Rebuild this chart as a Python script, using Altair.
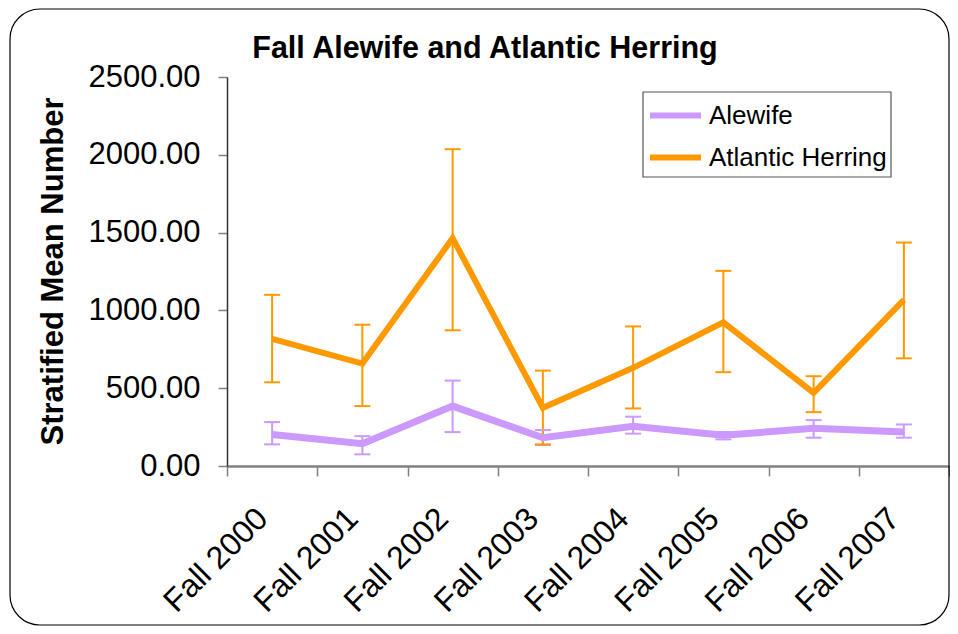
import altair as alt
import pandas as pd

years = ["Fall 2000", "Fall 2001", "Fall 2002", "Fall 2003",
         "Fall 2004", "Fall 2005", "Fall 2006", "Fall 2007"]
species = ["Alewife", "Atlantic Herring"]
colors = ["#CC99FF", "#FF9900"]

alewife_mean = [203, 143, 385, 182, 256, 197, 242, 218]
alewife_lo = [139, 75, 218, 135, 208, 171, 182, 182]
alewife_hi = [282, 192, 549, 231, 317, 218, 295, 267]

herring_mean = [817, 658, 1464, 374, 631, 923, 470, 1068]
herring_lo = [538, 385, 872, 139, 370, 603, 346, 692]
herring_hi = [1100, 908, 2036, 613, 897, 1254, 577, 1436]

y_ticks = [0, 500, 1000, 1500, 2000, 2500]
chart_title = "Fall Alewife and Atlantic Herring"
y_title = "Stratified Mean Number"

rows = []
for sp, m, lo, hi in [("Alewife", alewife_mean, alewife_lo, alewife_hi),
                      ("Atlantic Herring", herring_mean, herring_lo, herring_hi)]:
    for yr, a, b, c in zip(years, m, lo, hi):
        rows.append({"species": sp, "year": yr, "mean": a, "lo": b, "hi": c})
df = pd.DataFrame(rows)

FONT = "Arial, Liberation Sans"

x_enc = alt.X("year:N", sort=years,
              scale=alt.Scale(paddingInner=0, paddingOuter=0),
              axis=alt.Axis(title=None, labelAngle=-45, labelAlign="right",
                            labelBaseline="middle", labelFontSize=32,
                            labelFont=FONT, labelColor="#000",
                            labelPadding=37, labelOffset=-10,
                            tickSize=10, tickBand="extent",
                            tickColor="#808080", tickWidth=1.5,
                            domainColor="#808080", domainWidth=2.5))
y_scale = alt.Scale(domain=[0, 2500], nice=False)
y_axis = alt.Axis(values=y_ticks, format=".2f", grid=False,
                  title=y_title,
                  titleFont=FONT, titleFontSize=31,
                  titleFontWeight="bold", titleColor="#000",
                  titleAngle=-90, titleX=-165, titleY=194,
                  titleAlign="center", titleBaseline="alphabetic",
                  labelFontSize=31, labelFont=FONT, labelColor="#000",
                  labelPadding=18, tickSize=9, tickColor="#808080",
                  tickWidth=1.5, domainColor="#333", domainWidth=1.5)
color_enc = alt.Color("species:N",
                      scale=alt.Scale(domain=species, range=colors),
                      legend=alt.Legend(title=None, orient="none",
                                        legendX=416, legendY=6,
                                        symbolType="stroke", symbolSize=2601,
                                        symbolStrokeWidth=6, symbolOpacity=1,
                                        labelFontSize=26, labelFont=FONT,
                                        labelColor="#000", labelOffset=5,
                                        labelLimit=0,
                                        padding=4, rowPadding=0))

base = alt.Chart(df)

rules = base.mark_rule(strokeWidth=2, opacity=1).encode(
    x=x_enc,
    y=alt.Y("lo:Q", scale=y_scale, axis=y_axis),
    y2="hi:Q",
    color=color_enc,
)
caps_lo = base.mark_tick(size=16, thickness=2, opacity=1).encode(
    x=x_enc, y=alt.Y("lo:Q", scale=y_scale, axis=y_axis), color=color_enc)
caps_hi = base.mark_tick(size=16, thickness=2, opacity=1).encode(
    x=x_enc, y=alt.Y("hi:Q", scale=y_scale, axis=y_axis), color=color_enc)

line_alewife = base.transform_filter(
    alt.datum.species == "Alewife"
).mark_line(strokeWidth=7, opacity=1).encode(
    x=x_enc,
    y=alt.Y("mean:Q", scale=y_scale, axis=y_axis),
    color=color_enc,
)
line_herring = base.transform_filter(
    alt.datum.species == "Atlantic Herring"
).mark_line(strokeWidth=6, opacity=1).encode(
    x=x_enc,
    y=alt.Y("mean:Q", scale=y_scale, axis=y_axis),
    color=color_enc,
)

deco = pd.DataFrame({"label": [chart_title]})
border = alt.Chart(deco).mark_rect(
    filled=False, stroke="#000", strokeWidth=1.2, cornerRadius=30
).encode(x=alt.value(-217), x2=alt.value(722),
         y=alt.value(-68), y2=alt.value(548))

legend_box = alt.Chart(deco).mark_rect(
    filled=False, stroke="#555", strokeWidth=1.2
).encode(x=alt.value(416), x2=alt.value(664),
         y=alt.value(15), y2=alt.value(100))

title_text = alt.Chart(deco).mark_text(
    font=FONT, fontSize=30.5, fontWeight="bold", color="#000",
    align="center", baseline="alphabetic"
).encode(text="label:N", x=alt.value(258), y=alt.value(-19))

chart = alt.layer(border, legend_box, title_text, rules, caps_lo, caps_hi,
                  line_alewife, line_herring).properties(
    width=722, height=389,
    background="white",
    autosize=alt.AutoSizeParams(type="none"),
    padding={"left": 219, "top": 69, "right": 1, "bottom": 160},
).configure_view(strokeWidth=0, stroke="transparent").configure_axis(
    grid=False)

chart.save("out.html", embed_options={"renderer": "svg", "actions": False})
